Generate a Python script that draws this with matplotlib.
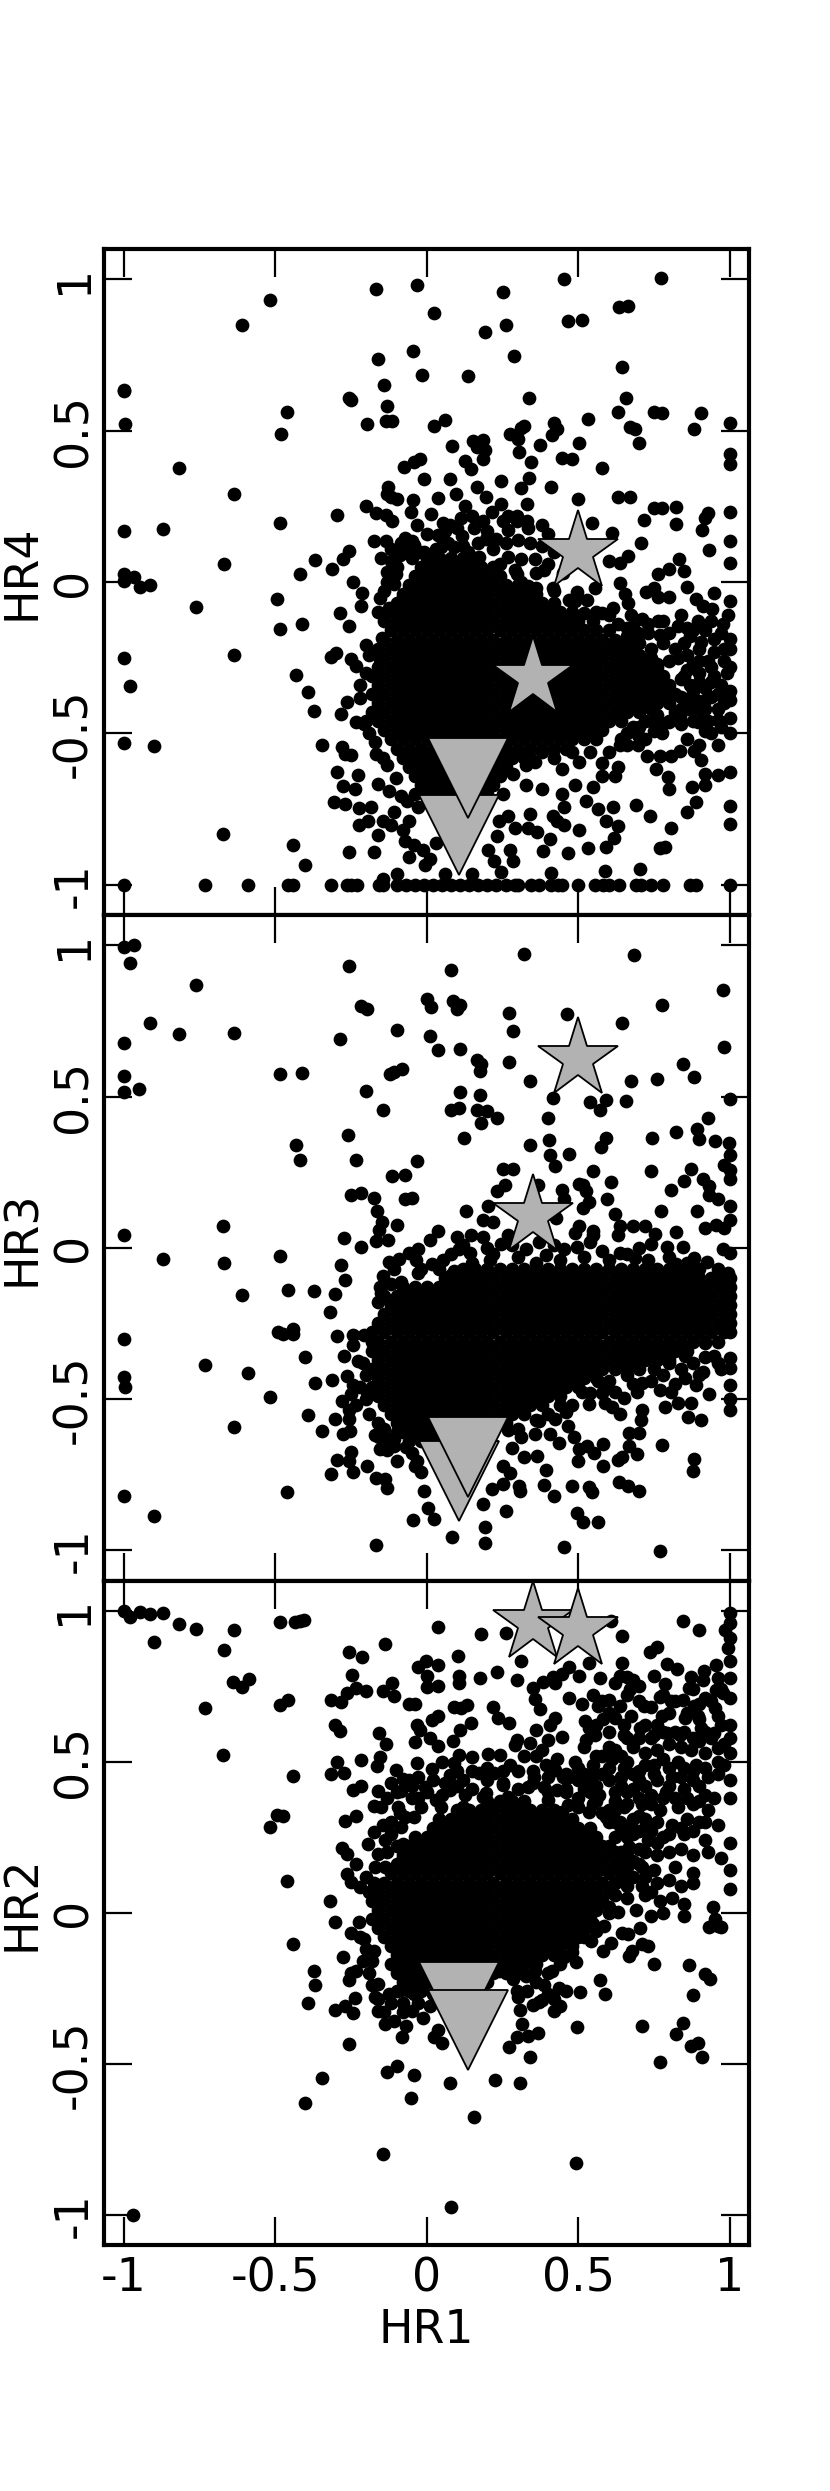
import matplotlib
matplotlib.use('Agg')
import matplotlib.pyplot as plt
import numpy as np

# Colour-colour diagrams: HR1 against HR4, HR3, HR2

tick_vals = [-1, -0.5, 0, 0.5, 1]
tick_text = ['-1', '-0.5', '0', '0.5', '1']
y_names = ['HR4', 'HR3', 'HR2']

# special sources, same in every panel for HR1
star_hr1 = [0.352, 0.5]
tri_hr1 = [0.105, 0.135]
star_hr4 = [-0.318, 0.10]
tri_hr4 = [-0.836, -0.648]
star_hr3 = [0.105, 0.623]
tri_hr3 = [-0.77, -0.692]
star_hr2 = [0.96, 0.935]
tri_hr2 = [-0.295, -0.387]

# ---- HR4 panel ----
hr4_bottom_x = [-1, -0.733, -0.59, -0.457, -0.442, -0.318, -0.265, -0.25, -0.232, -0.158, -0.144, -0.1, -0.07,
                -0.04, -0.01, 0.02, 0.05, 0.08, 0.11, 0.14, 0.17, 0.2, 0.23, 0.26, 0.29, 0.3, 0.345, 0.372, 0.41,
                0.433, 0.447, 0.5, 0.556, 0.581, 0.6, 0.635, 0.69, 0.708, 0.74, 0.781, 0.87, 0.888, 1]
hr4_pts = [(-0.167, 0.969), (-0.033, 0.982), (0.25, 0.957), (0.454, 1.0), (0.772, 1.003), (-0.518, 0.93), (0.024, 0.89),
           (-0.611, 0.848), (0.191, 0.827), (0.26, 0.849), (0.466, 0.861), (0.513, 0.867), (0.635, 0.91), (0.664, 0.913),
           (-0.047, 0.763), (-0.163, 0.737), (0.288, 0.746), (0.643, 0.71), (-0.015, 0.685), (0.136, 0.68), (-0.141, 0.652),
           (-1, 0.632), (-1, 0.635), (-0.256, 0.608), (-0.251, 0.602), (0.339, 0.608), (0.658, 0.608), (-0.13, 0.583),
           (-0.462, 0.562), (0.63, 0.562), (0.75, 0.561), (0.777, 0.559), (0.907, 0.558), (0.533, 0.54), (-0.135, 0.533),
           (-0.114, 0.533), (0.059, 0.534), (0.022, 0.516), (-0.197, 0.522), (-0.996, 0.521), (1, 0.525), (0.882, 0.506),
           (0.67, 0.512), (0.688, 0.506), (-0.481, 0.49), (0.312, 0.51), (0.322, 0.516), (0.419, 0.524), (0.43, 0.506),
           (0.413, 0.487), (0.275, 0.488), (0.3, 0.472), (0.501, 0.459), (0.701, 0.46), (0.374, 0.453), (0.083, 0.448),
           (0.152, 0.466), (0.185, 0.469), (0.164, 0.447), (0.191, 0.436), (0.185, 0.407), (0.303, 0.429), (0.343, 0.398),
           (0.448, 0.41), (0.479, 0.407), (1, 0.423), (1, 0.389), (0.127, 0.399), (0.146, 0.374), (-0.021, 0.407),
           (-0.043, 0.395), (-0.075, 0.379), (0.58, 0.377), (-0.817, 0.377), (-0.009, 0.34), (0.078, 0.339), (0.246, 0.334),
           (0.337, 0.342), (0.312, 0.311), (0.41, 0.314), (-0.638, 0.291), (-0.129, 0.314), (-0.132, 0.291), (-0.117, 0.281),
           (-0.099, 0.274), (0.037, 0.277), (0.095, 0.291), (0.164, 0.315), (0.194, 0.28), (-0.046, 0.272), (-0.053, 0.232),
           (0.499, 0.275), (0.63, 0.28), (0.67, 0.281), (0.331, 0.257), (0.246, 0.259), (0.127, 0.25), (0.112, 0.21),
           (-0.201, 0.251), (-0.169, 0.229), (-0.135, 0.222), (-0.114, 0.2), (-0.297, 0.22), (0.216, 0.232), (0.751, 0.243),
           (0.778, 0.244), (0.822, 0.247), (1, 0.232), (0.93, 0.229), (0.919, 0.21), (0.716, 0.206), (0.544, 0.195),
           (0.013, 0.223), (0.053, 0.195), (-0.031, 0.188), (-0.485, 0.194), (0.822, 0.191), (-1, 0.17), (-0.873, 0.175),
           (0.908, 0.173), (0.612, 0.161), (1, 0.136), (0.708, 0.129), (0.932, 0.105), (0.664, 0.087), (0.638, 0.062),
           (1, 0.062), (0.833, 0.077), (0.849, 0.036), (-0.67, 0.059), (-0.371, 0.072), (-0.312, 0.044), (-0.257, 0.104),
           (-0.277, 0.077), (-0.42, 0.028), (-1, 0.025), (-1, 0.003), (-0.967, 0.018), (-0.948, -0.015), (-0.913, -0.009),
           (-0.244, -0.001), (-0.494, -0.056), (-0.763, -0.083), (-0.286, -0.104), (-0.257, -0.145), (-0.485, -0.155),
           (-0.411, -0.139), (-0.638, -0.24), (-1, -0.251), (-0.981, -0.342), (-0.433, -0.308), (-0.392, -0.364),
           (-0.374, -0.426), (-1, -0.533), (-0.902, -0.543), (-0.346, -0.537), (-0.297, -0.629), (-0.226, -0.638),
           (-0.673, -0.834), (-0.442, -0.87), (-0.402, -0.936), (-0.257, -0.892), (-0.176, -0.892),
           # fringe above the core
           (-0.176, 0.134), (-0.135, 0.136), (-0.073, 0.144), (-0.05, 0.136), (-0.021, 0.1), (-0.117, 0.07), (-0.132, 0.033),
           (-0.11, -0.005), (-0.154, -0.052), (-0.161, -0.1), (-0.124, -0.086), (-0.087, -0.064), (-0.213, -0.037),
           (-0.216, -0.078), (-0.25, -0.256), (-0.317, -0.249), (-0.299, -0.234), (-0.235, -0.278), (-0.201, -0.207),
           (-0.149, -0.186), (-0.154, -0.256), (-0.265, -0.396), (-0.22, -0.382), (-0.283, -0.436), (-0.235, -0.463),
           (-0.206, -0.47), (0, 0.158), (0.038, 0.155), (0.075, 0.188), (0.117, 0.151), (0.157, 0.18), (0.194, 0.143),
           (0.23, 0.143), (0.268, 0.173), (0.297, 0.203), (0.334, 0.18), (0.379, 0.188), (0.4, 0.158), (0.046, 0.114),
           (0.09, 0.114), (0.135, 0.099), (0.172, 0.084), (-0.087, 0.129), (-0.043, 0.121), (0, 0.084), (0.061, 0.07),
           (0.105, 0.047), (0.268, 0.084), (0.312, 0.077), (0.357, 0.077), (0.297, 0.025), (0.334, -0.012), (0.386, 0.04),
           (0.416, -0.019), (0.497, -0.034), (0.49, -0.064), (-0.102, 0.025), (0.268, 0.217),
           (0.297, 0.217), (0.186, 0.203), (0.149, 0.217), (-0.058, 0.099), (0.556, -0.019), (0.601, 0.07), (0.638, -0.004),
           (0.655, -0.041), (0.664, -0.071), (0.519, -0.101), (0.578, -0.101), (0.615, -0.086),
           (-.09, .09), (-.05, .08), (-.01, .1), (.03, .11), (.07, .13), (.12, .12), (.17, .13), (.22, .11), (.26, .13), (.3, .14),
           (.34, .13), (.38, .12), (.42, .1), (.46, .11), (-.12, .11), (-.15, .08), (-.13, 0), (-.1, .05), (-.14, -.03), (-.12, -.1),
           (.24, .06), (.29, .04), (.36, .03), (.4, .06), (.45, .03), (.42, -.03), (.36, -.02), (.31, 0), (.47, -.06), (.53, -.06),
           (.56, -.1), (.6, -.11), (.63, -.14), (.55, -.13), (.68, -.19), (.73, -.17), (.8, -.17), (.87, -.18), (.92, -.16), (.97, -.17),
           (.06, .17), (.1, .18), (.2, .17), (.25, .2), (.33, .2),
           # right wing
           (0.763, 0.025), (0.8, 0.043), (0.749, -0.019), (0.723, -0.034), (0.763, -0.049), (0.8, -0.049), (0.859, -0.015),
           (0.948, -0.037), (0.889, -0.056), (0.911, -0.078), (0.941, -0.09), (1, -0.064), (0.993, -0.108), (0.978, -0.138),
           (0.675, -0.108), (0.712, -0.123), (0.763, -0.13), (0.83, -0.145), (0.896, -0.13), (0.66, -0.152), (0.697, -0.167),
           (0.771, -0.175), (0.859, -0.152), (1, -0.189), (0.948, -0.189), (0.904, -0.197),
           (0.85, -0.2), (0.9, -0.22), (0.95, -0.23), (1, -0.22), (0.83, -0.25), (0.88, -0.27), (0.93, -0.26), (0.98, -0.26), (1, -0.28),
           (0.85, -0.31), (0.9, -0.3), (0.95, -0.31), (0.99, -0.3), (0.87, -0.34), (0.92, -0.35), (0.97, -0.34), (1, -0.36),
           (0.84, -0.38), (0.89, -0.39), (0.94, -0.38), (0.98, -0.4), (0.82, -0.43), (0.86, -0.42), (0.91, -0.43), (0.96, -0.42),
           (.66, -.18), (.7, -.2), (.74, -.22), (.78, -.2), (.82, -.22), (.86, -.24), (.9, -.26), (.94, -.28), (.7, -.24), (.76, -.27),
           (.8, -.26), (.86, -.29), (.9, -.33), (.94, -.33), (.98, -.22), (.84, -.32), (.88, -.36), (.92, -.39), (.96, -.37), (.86, -.39),
           (.72, -.46), (.76, -.44), (.8, -.46), (.68, -.48), (.64, -.52), (.84, -.42), (.88, -.42), (.93, -.46), (.97, -.48), (.72, -.26),
           (.66, -.22), (.64, -.2), (.68, -.15), (.73, -.14), (.78, -.13), (.84, -.11), (.88, -.16), (.94, -.13),
           (0.741, -0.419), (0.778, -0.47), (0.8, -0.463), (0.837, -0.448), (0.874, -0.419), (0.896, -0.463), (0.919, -0.493),
           (0.963, -0.456), (1, -0.389), (1, -0.448), (1, -0.5), (0.963, -0.537), (0.882, -0.559), (0.904, -0.589),
           (0.837, -0.559), (0.808, -0.574), (0.771, -0.574), (0.726, -0.574), (0.749, -0.493), (0.778, -0.5), (0.697, -0.507),
           (0.697, -0.537), (0.638, -0.537),
           (.34, -.58), (.38, -.56), (.42, -.58), (.48, -.56), (.54, -.56), (.6, -.56), (.66, -.5), (.66, -.54), (.7, -.48), (.74, -.46),
           (.84, -.47), (.88, -.46), (.92, -.42), (.94, -.5), (.86, -.52), (.9, -.54), (.72, -.52), (-.19, -.5), (-.17, -.53), (-.2, -.46),
           (-.19, -.24), (-.2, -.3), (-.22, -.34),
           # lower right and lower middle
           (1, -0.626), (0.963, -0.638), (0.919, -0.633), (0.919, -0.67), (0.877, -0.678), (0.889, -0.726), (0.859, -0.759),
           (0.797, -0.643), (0.756, -0.618), (0.8, -0.685), (0.692, -0.737), (0.738, -0.774), (1, -0.74), (1, -0.8),
           (0.808, -0.811), (0.771, -0.88), (0.788, -0.874), (0.704, -0.948), (0.327, -0.604), (0.357, -0.596), (0.445, -0.618),
           (0.504, -0.596), (0.578, -0.599), (0.63, -0.611), (0.623, -0.641), (0.49, -0.67), (0.578, -0.641), (0.549, -0.678),
           (0.527, -0.722), (0.445, -0.7), (0.453, -0.744), (0.379, -0.685), (0.327, -0.67), (0.283, -0.633), (0.253, -0.7),
           (0.564, -0.751), (0.615, -0.744), (0.342, -0.766), (0.416, -0.774), (0.268, -0.774), (0.238, -0.788), (0.29, -0.811),
           (0.334, -0.811), (0.364, -0.825), (0.408, -0.848), (0.453, -0.803), (0.43, -0.788), (0.504, -0.818), (0.593, -0.788),
           (0.63, -0.806), (0.618, -0.845), (0.593, -0.877), (0.531, -0.88), (0.467, -0.895), (0.382, -0.888), (0.231, -0.84),
           (0.275, -0.885), (0.283, -0.922), (0.201, -0.885), (0.223, -0.922), (0.246, -0.959), (0.149, -0.966), (0.411, -0.962),
           (0.59, -0.954), (0.061, -0.966), (-0.099, -0.963), (-0.146, -0.981),
           # lower left
           (-0.28, -0.544), (-0.272, -0.567), (-0.25, -0.57), (-0.169, -0.567), (-0.146, -0.581), (-0.132, -0.604),
           (-0.102, -0.648), (-0.161, -0.666), (-0.124, -0.692), (-0.087, -0.707), (-0.065, -0.722), (-0.277, -0.673),
           (-0.238, -0.685), (-0.306, -0.726), (-0.272, -0.732), (-0.225, -0.746), (-0.183, -0.744), (-0.223, -0.803),
           (-0.194, -0.791), (-0.146, -0.788), (-0.109, -0.759), (-0.117, -0.803), (-0.16, -0.836), (-0.08, -0.818),
           (-0.058, -0.788), (-0.072, -0.855), (-0.043, -0.87), (-0.058, -0.91), (-0.013, -0.885), (0.009, -0.914),
           (-0.006, -0.936), (0.031, -0.862), (-0.028, -0.744)]
# solid core, one row of x values per y value
hr4_core_y = [.08, .05, .02, -.01, -.04, -.07, -.10, -.13, -.16, -.19, -.22, -.25, -.28, -.31, -.34, -.37, -.40, -.43, -.46,
              -.49, -.52, -.55, -.58, -.61, -.64, -.67, -.70]
hr4_core_x = [[0, .04, .08, .12, .16],
              [-.02, .02, .06, .1, .14, .18, .22],
              [-.04, 0, .04, .08, .12, .16, .2, .24],
              [-.06, -.02, .02, .06, .1, .14, .18, .22, .26, .3],
              [-.08, -.04, 0, .04, .08, .12, .16, .2, .24, .28, .32, .36],
              [-.1, -.06, -.02, .02, .06, .1, .14, .18, .22, .26, .3, .34, .38, .42],
              [-.12, -.08, -.04, 0, .04, .08, .12, .16, .2, .24, .28, .32, .36, .4, .44, .48],
              [-.14, -.1, -.06, -.02, .02, .06, .1, .14, .18, .22, .26, .3, .34, .38, .42, .46, .5],
              [-.12, -.08, -.04, 0, .04, .08, .12, .16, .2, .24, .28, .32, .36, .4, .44, .48, .52, .56, .6],
              [-.14, -.1, -.06, -.02, .02, .06, .1, .14, .18, .22, .26, .3, .34, .38, .42, .46, .5, .54, .58, .62],
              [-.16, -.12, -.08, -.04, 0, .04, .08, .12, .16, .2, .24, .28, .32, .36, .4, .44, .48, .52, .56, .6, .64, .68],
              [-.14, -.1, -.06, -.02, .02, .06, .1, .14, .18, .22, .26, .3, .34, .38, .42, .46, .5, .54, .58, .62, .66, .7, .74],
              [-.16, -.12, -.08, -.04, 0, .04, .08, .12, .16, .2, .24, .28, .32, .36, .4, .44, .48, .52, .56, .6, .64, .68, .72, .76],
              [-.18, -.14, -.1, -.06, -.02, .02, .06, .1, .14, .18, .22, .26, .3, .34, .38, .42, .46, .5, .54, .58, .62, .66, .7, .74, .78],
              [-.16, -.12, -.08, -.04, 0, .04, .08, .12, .16, .2, .24, .28, .32, .36, .4, .44, .48, .52, .56, .6, .64, .68, .72, .76, .8],
              [-.18, -.14, -.1, -.06, -.02, .02, .06, .1, .14, .18, .22, .26, .3, .34, .38, .42, .46, .5, .54, .58, .62, .66, .7, .74, .78, .82],
              [-.16, -.12, -.08, -.04, 0, .04, .08, .12, .16, .2, .24, .28, .32, .36, .4, .44, .48, .52, .56, .6, .64, .68, .72, .76, .8],
              [-.18, -.14, -.1, -.06, -.02, .02, .06, .1, .14, .18, .22, .26, .3, .34, .38, .42, .46, .5, .54, .58, .62, .66, .7],
              [-.16, -.12, -.08, -.04, 0, .04, .08, .12, .16, .2, .24, .28, .32, .36, .4, .44, .48, .52, .56, .6, .64],
              [-.14, -.1, -.06, -.02, .02, .06, .1, .14, .18, .22, .26, .3, .34, .38, .42, .46, .5, .54, .58],
              [-.12, -.08, -.04, 0, .04, .08, .12, .16, .2, .24, .28, .32, .36, .4, .44, .48, .52, .56],
              [-.1, -.06, -.02, .02, .06, .1, .14, .18, .22, .26, .3, .34, .38, .42, .46],
              [-.08, -.04, 0, .04, .08, .12, .16, .2, .24, .28, .32],
              [-.06, -.02, .02, .06, .1, .14, .18, .22, .26],
              [-.04, 0, .04, .08, .12, .16, .2, .24],
              [-.02, .02, .06, .1, .14, .18, .22],
              [-.04, 0, .04, .08, .12, .16, .2]]

# ---- HR3 panel ----
hr3_pts = [(-1, 0.993), (-0.967, 1.0), (-0.981, 0.942), (-0.257, 0.932), (0.081, 0.917), (0.321, 0.97), (0.685, 0.969),
           (-0.763, 0.87), (0.979, 0.852), (-0.001, 0.822), (0.013, 0.796), (0.087, 0.815), (0.108, 0.803), (0.098, 0.788),
           (-0.217, 0.799), (-0.198, 0.788), (0.777, 0.802), (0.271, 0.777), (0.462, 0.772), (0.643, 0.744), (-0.914, 0.744),
           (-0.817, 0.706), (-0.638, 0.71), (-0.098, 0.719), (0.283, 0.717), (0.009, 0.7), (-0.286, 0.691), (-1, 0.676),
           (0.037, 0.654), (0.108, 0.657), (0.981, 0.663), (0.164, 0.621), (0.179, 0.608), (0.176, 0.584), (0.271, 0.614),
           (0.845, 0.607), (-0.083, 0.592), (-0.109, 0.581), (-0.123, 0.574), (-0.485, 0.574), (-0.411, 0.578), (-1, 0.567),
           (0.882, 0.565), (0.76, 0.559), (0.675, 0.55), (0.342, 0.55), (-1, 0.515), (-0.95, 0.524), (-0.201, 0.519),
           (0.109, 0.515), (0.176, 0.506), (0.416, 0.496), (0.54, 0.482), (0.593, 0.488), (0.571, 0.457), (0.657, 0.484),
           (1, 0.491), (-0.145, 0.456), (0.08, 0.454), (0.105, 0.463), (0.167, 0.454), (0.198, 0.453), (0.231, 0.428),
           (0.179, 0.411), (0.399, 0.428), (0.93, 0.429), (-0.26, 0.374), (0.124, 0.364), (0.892, 0.392), (0.899, 0.359),
           (0.824, 0.382), (0.743, 0.364), (0.593, 0.364), (0.574, 0.333), (0.404, 0.355), (0.342, 0.339), (0.47, 0.311),
           (0.408, 0.306), (0.423, 0.271), (-0.433, 0.34), (-0.419, 0.291), (-0.234, 0.291), (-0.033, 0.286), (0.953, 0.352),
           (0.997, 0.345), (1, 0.308), (0.982, 0.274), (1, 0.256), (1, 0.226), (0.55, 0.254), (0.74, 0.254), (0.874, 0.259),
           (0.253, 0.259), (0.286, 0.26), (-0.114, 0.237), (-0.072, 0.24), (0.259, 0.209), (0.231, 0.189), (0.367, 0.209),
           (0.501, 0.212), (0.516, 0.207), (0.448, 0.192), (0.608, 0.216), (0.848, 0.22), (0.808, 0.192), (0.911, 0.226),
           (0.933, 0.204), (-0.25, 0.175), (-0.217, 0.18), (-0.176, 0.163), (-0.072, 0.16), (-0.05, 0.166), (0.453, 0.16),
           (0.527, 0.189), (0.534, 0.152), (0.516, 0.13), (0.596, 0.161), (0.933, 0.175), (0.963, 0.16), (1, 0.138),
           (0.774, 0.121), (0.891, 0.121), (-0.164, 0.12), (0.13, 0.12), (0.201, 0.138), (0.186, 0.093), (0.22, 0.084),
           (0.623, 0.111), (1, 0.093), (-0.147, 0.086), (-0.098, 0.075), (0.036, 0.056), (-0.158, 0.059), (0.428, 0.1),
           (0.638, 0.071), (0.682, 0.071), (0.719, 0.071), (0.919, 0.064), (0.956, 0.075), (0.982, 0.064), (0.822, 0.052),
           (0.501, 0.071), (0.549, 0.056), (0.549, 0.041), (0.49, 0.049), (0.63, 0.041), (0.754, 0.046), (-1, 0.043),
           (-0.673, 0.071), (-0.275, 0.033), (-0.127, 0.024), (-0.169, 0.022), (0.01, 0.027), (0.101, 0.034), (0.145, 0.041),
           (0.186, 0.034), (-0.219, 0.003), (0.268, 0.041),
           # left of the core
           (-0.485, -0.028), (-0.873, -0.036), (-0.67, -0.052), (-0.283, -0.056), (-0.269, -0.108), (-0.611, -0.157),
           (-0.457, -0.141), (-0.374, -0.143), (-0.302, -0.154), (-0.32, -0.214), (-1, -0.3), (-0.493, -0.28), (-0.476, -0.284),
           (-0.441, -0.269), (-0.441, -0.284), (-0.297, -0.291), (-0.243, -0.288), (-0.206, -0.287), (-0.243, -0.321),
           (-0.734, -0.388), (-0.59, -0.413), (-0.402, -0.362), (-0.275, -0.358), (-0.228, -0.373), (-1, -0.428), (-0.996, -0.459),
           (-0.371, -0.447), (-0.312, -0.436), (-0.265, -0.425), (-0.243, -0.454), (-0.518, -0.494), (-0.198, -0.476),
           (-0.28, -0.506), (-0.25, -0.484), (-0.235, -0.521), (-0.391, -0.552), (-0.302, -0.565), (-0.257, -0.536),
           (-0.638, -0.592), (-0.346, -0.606), (-0.277, -0.617), (-0.253, -0.606), (-0.257, -0.565), (-0.158, -0.624),
           (-0.109, -0.632), (-0.154, -0.664), (-0.109, -0.654), (-0.132, -0.669), (-0.25, -0.676), (-0.297, -0.703),
           (-0.257, -0.706), (-0.098, -0.706), (-0.318, -0.747), (-0.245, -0.74), (-0.197, -0.723), (-0.033, -0.706),
           (-0.169, -0.762), (-0.139, -0.765), (-0.132, -0.794), (-1, -0.82), (-0.462, -0.809), (-0.009, -0.805), (-0.902, -0.886),
           (0.004, -0.861), (-0.047, -0.899), (0.024, -0.898), (0.084, -0.957), (-0.167, -0.984), (0.191, -0.923), (0.191, -0.975),
           (0.185, -0.846), (0.26, -0.87), (0.454, -0.99), (0.771, -1.001),
           (-.2, -.42), (-.21, -.38), (-.22, -.46), (-.2, -.5), (-.19, -.55), (-.16, -.58), (-.14, -.6), (-.17, -.62), (-.13, -.63),
           (-.1, -.61), (-.07, -.66), (-.05, -.68), (-.04, -.72), (-.02, -.74),
           # below the core on the right
           (0.268, -0.602), (0.312, -0.624), (0.357, -0.617), (0.371, -0.572), (0.423, -0.565), (0.46, -0.543), (0.467, -0.59),
           (0.408, -0.617), (0.438, -0.646), (0.487, -0.627), (0.28, -0.661), (0.32, -0.691), (0.364, -0.688), (0.393, -0.735),
           (0.251, -0.723), (0.275, -0.746), (0.253, -0.78), (0.216, -0.797), (0.305, -0.787), (0.309, -0.805), (0.386, -0.783),
           (0.42, -0.82), (0.478, -0.788), (0.534, -0.791), (0.546, -0.809), (0.504, -0.664), (0.53, -0.654), (0.552, -0.679),
           (0.581, -0.649), (0.5, -0.706), (0.581, -0.72), (0.63, -0.703), (0.645, -0.691), (0.667, -0.614), (0.701, -0.611),
           (0.667, -0.654), (0.694, -0.683), (0.778, -0.651), (0.712, -0.536), (0.708, -0.568), (0.512, -0.476), (0.537, -0.516),
           (0.59, -0.513), (0.612, -0.528), (0.638, -0.55), (0.862, -0.561), (0.906, -0.57), (0.874, -0.513), (1, -0.535),
           (1, -0.499), (1, -0.454), (0.786, -0.528), (0.831, -0.513), (0.882, -0.698), (0.879, -0.738), (0.635, -0.775),
           (0.664, -0.787), (0.701, -0.805), (0.497, -0.876), (0.515, -0.905), (0.564, -0.905), (0.771, -0.469), (0.808, -0.476),
           (0.852, -0.432), (0.852, -0.358), (0.889, -0.454), (0.933, -0.484), (0.911, -0.41), (0.948, -0.358), (0.97, -0.402),
           (1, -0.365), (1, -0.398), (0.919, -0.314), (0.749, -0.402), (0.8, -0.38), (0.712, -0.447), (0.623, -0.476),
           (0.695, -0.476), (0.652, -0.498), (0.564, -0.439), (0.593, -0.462),
           (.6, -.44), (.66, -.42), (.7, -.4), (.74, -.44), (.68, -.45), (.78, -.42), (.84, -.4), (.88, -.38), (.92, -.36), (.96, -.38),
           (.9, -.42), (.82, -.45), (.54, -.48), (.58, -.48), (.48, -.52), (.44, -.52), (.4, -.55), (.36, -.57), (.3, -.6),
           # ragged upper edge
           (-0.124, -0.047), (-0.092, -0.036), (-0.058, -0.018), (-0.028, -0.003), (-0.036, -0.04), (0.053, -0.04), (0.016, -0.055),
           (-0.146, -0.092), (-0.154, -0.129), (-0.087, -0.114), (-0.028, -0.084), (0.09, -0.077), (0.105, -0.003), (0.142, -0.018),
           (0.209, -0.04), (0.246, 0.012), (0.327, -0.003), (0.393, -0.025), (0.453, -0.003), (0.497, 0.004), (0.578, -0.01),
           (0.638, -0.018), (0.689, -0.033), (0.741, 0.012), (0.793, 0.001), (0.845, 0.004), (0.882, -0.033), (0.926, -0.047),
           (0.822, -0.055), (0.763, -0.077), (0.978, -0.003), (1, -0.018), (0.993, -0.084), (0.941, -0.114),
           (-.02, -.07), (.04, -.07), (.08, -.09), (.15, -.05), (.22, -.02), (.3, -.03), (.36, -.05), (.44, -.04), (.52, -.03), (.6, -.04),
           (.66, -.02), (.73, -.04), (.8, -.03), (.86, -.05), (.9, -.07), (.96, -.07), (1, -.1), (.2, 0), (.37, .02), (.54, .02), (.7, 0),
           (.08, -.02), (.12, .01), (.28, .01), (.42, .01), (-.11, -.07), (-.15, -.15), (-.12, -.12), (-.16, -.18)]
hr3_core_y = [-.07, -.10, -.13, -.16, -.19, -.22, -.25, -.28, -.31, -.34, -.37, -.40, -.43, -.46, -.49, -.52, -.55, -.58, -.61, -.64]
hr3_core_x = [[.12, .16, .2, .24, .28, .32, .36, .4, .44, .48, .52, .56, .6, .64, .68, .72, .76, .8, .84, .88],
              [.06, .1, .14, .18, .22, .26, .3, .34, .38, .42, .46, .5, .54, .58, .62, .66, .7, .74, .78, .82, .86, .9, .94, .98],
              [-.08, -.04, 0, .04, .08, .12, .16, .2, .24, .28, .32, .36, .4, .44, .48, .52, .56, .6, .64, .68, .72, .76, .8, .84, .88, .92, .96, 1],
              [-.14, -.1, -.06, -.02, .02, .06, .1, .14, .18, .22, .26, .3, .34, .38, .42, .46, .5, .54, .58, .62, .66, .7, .74, .78, .82, .86, .9, .94, .98, 1],
              [-.12, -.08, -.04, 0, .04, .08, .12, .16, .2, .24, .28, .32, .36, .4, .44, .48, .52, .56, .6, .64, .68, .72, .76, .8, .84, .88, .92, .96, 1],
              [-.14, -.1, -.06, -.02, .02, .06, .1, .14, .18, .22, .26, .3, .34, .38, .42, .46, .5, .54, .58, .62, .66, .7, .74, .78, .82, .86, .9, .94, .98, 1],
              [-.16, -.12, -.08, -.04, 0, .04, .08, .12, .16, .2, .24, .28, .32, .36, .4, .44, .48, .52, .56, .6, .64, .68, .72, .76, .8, .84, .88, .92, .96, 1],
              [-.18, -.14, -.1, -.06, -.02, .02, .06, .1, .14, .18, .22, .26, .3, .34, .38, .42, .46, .5, .54, .58, .62, .66, .7, .74, .78, .82, .86, .9, .94, .98, 1],
              [-.18, -.16, -.12, -.08, -.04, 0, .04, .08, .12, .16, .2, .24, .28, .32, .36, .4, .44, .48, .52, .56, .6, .64, .68, .72, .76, .8, .84, .88, .92, .96],
              [-.18, -.14, -.1, -.06, -.02, .02, .06, .1, .14, .18, .22, .26, .3, .34, .38, .42, .46, .5, .54, .58, .62, .66, .7, .74, .78, .82, .86],
              [-.16, -.12, -.08, -.04, 0, .04, .08, .12, .16, .2, .24, .28, .32, .36, .4, .44, .48, .52, .56, .6, .64, .68, .72, .76, .8],
              [-.18, -.14, -.1, -.06, -.02, .02, .06, .1, .14, .18, .22, .26, .3, .34, .38, .42, .46, .5, .54, .58, .62, .66],
              [-.16, -.12, -.08, -.04, 0, .04, .08, .12, .16, .2, .24, .28, .32, .36, .4, .44, .48, .52, .56],
              [-.18, -.14, -.1, -.06, -.02, .02, .06, .1, .14, .18, .22, .26, .3, .34, .38, .42, .46, .5],
              [-.16, -.12, -.08, -.04, 0, .04, .08, .12, .16, .2, .24, .28, .32, .36, .4, .44],
              [-.14, -.1, -.06, -.02, .02, .06, .1, .14, .18, .22, .26, .3, .34, .38],
              [-.12, -.08, -.04, 0, .04, .08, .12, .16, .2, .24, .28, .32],
              [-.1, -.06, -.02, .02, .06, .1, .14, .18, .22, .26],
              [-.08, -.04, 0, .04, .08, .12, .16, .2],
              [-.06, -.02, .02, .06, .1]]

# ---- HR2 panel ----
hr2_pts = [(-1, 0.999), (-0.981, 0.978), (-0.948, 0.996), (-0.913, 0.988), (-0.873, 0.991), (-0.817, 0.955), (-0.763, 0.938),
           (-0.638, 0.935), (-0.902, 0.897), (-0.67, 0.871), (-0.485, 0.963), (-0.435, 0.963), (-0.42, 0.966), (-0.405, 0.97),
           (-0.639, 0.764), (-0.612, 0.747), (-0.589, 0.774), (-0.734, 0.677), (-0.485, 0.688), (-0.457, 0.706), (-0.673, 0.523),
           (-0.441, 0.453), (-0.519, 0.285), (-0.494, 0.324), (-0.476, 0.319), (-0.462, 0.104), (-0.32, 0.038), (-0.302, -0.03),
           (-0.441, -0.104), (-0.374, -0.194), (-0.371, -0.239), (-0.392, -0.298), (-0.257, -0.433), (-0.346, -0.546),
           (-0.402, -0.63), (-0.132, -0.527), (-0.099, -0.507), (-0.043, -0.537), (-0.053, -0.614), (0.075, -0.565), (0.226, -0.553),
           (0.309, -0.563), (0.157, -0.675), (-0.145, -0.798), (0.493, -0.83), (0.081, -0.973), (-0.97, -1.001),
           # below the core
           (0.342, -0.479), (0.271, -0.444), (0.297, -0.412), (0.334, -0.408), (0.367, -0.397), (0.315, -0.367), (0.309, -0.323),
           (0.349, -0.306), (0.371, -0.296), (0.42, -0.326), (0.419, -0.285), (0.386, -0.239), (0.438, -0.249), (0.507, -0.262),
           (0.497, -0.379), (0.571, -0.224), (0.59, -0.268), (0.494, -0.163), (0.453, -0.145), (0.413, -0.194), (0.357, -0.194),
           (0.297, -0.26), (0.327, -0.211), (0.238, -0.194), (0.283, -0.219), (0.541, -0.095), (0.583, -0.128), (0.608, -0.099),
           (0.645, -0.066), (0.664, -0.071), (0.63, 0.003), (0.549, -0.038), (0.586, -0.043), (0.667, -0.142), (0.679, -0.128),
           (0.703, -0.051), (0.712, -0.104), (0.729, -0.109), (0.751, -0.171), (0.71, -0.374), (0.771, -0.495), (0.822, -0.402),
           (0.845, -0.364), (0.874, -0.441), (0.896, -0.43), (0.908, -0.479), (0.867, -0.174), (0.879, -0.273), (0.919, -0.202),
           (0.936, -0.219), (0.932, -0.046), (0.963, -0.043), (0.973, -0.046), (0.945, 0.02), (0.951, -0.021),
           (-0.277, -0.148), (-0.25, -0.199), (-0.235, -0.194), (-0.257, -0.224), (-0.18, -0.24), (-0.238, -0.283), (-0.303, -0.323),
           (-0.272, -0.309), (-0.243, -0.331), (-0.161, -0.326), (-0.139, -0.367), (-0.109, -0.359), (-0.07, -0.375), (-0.083, -0.412),
           (-0.05, -0.326), (-0.013, -0.347), (0.038, -0.388), (0.024, -0.413), (0.05, -0.43), (-0.25, -0.066), (-0.223, -0.03),
           (-0.206, -0.087), (-0.176, -0.128), (-0.161, -0.285), (-0.161, -0.235), (-0.124, -0.268), (-0.087, -0.257),
           (-0.043, -0.268), (0.009, -0.309),
           (.52, -.08), (.48, -.13), (.4, -.2), (.44, -.17), (.36, -.23), (.3, -.28), (.33, -.26), (.02, -.27), (-.03, -.3), (-.08, -.3),
           (-.12, -.3), (-.17, -.28), (-.19, -.2), (-.18, -.16), (-.2, -.12), (-.22, -.08), (-.21, -.16), (-.14, -.33), (-.08, -.33),
           (.4, -.27), (.46, -.26), (.44, -.31), (.38, -.29),
           # above the core
           (0.037, 0.947), (-0.138, 0.891), (-0.257, 0.864), (-0.214, 0.846), (0.104, 0.851), (0.179, 0.922), (0.26, 0.925),
           (0.312, 0.835), (0.297, 0.769), (0.231, 0.797), (0.176, 0.777), (-0.028, 0.813), (-0.003, 0.835), (0.038, 0.821),
           (0.001, 0.785), (0.038, 0.752), (0.001, 0.747), (0.105, 0.785), (0.105, 0.76), (-0.247, 0.788), (-0.235, 0.744),
           (-0.265, 0.728), (-0.2, 0.734), (-0.146, 0.734), (-0.114, 0.76), (-0.109, 0.719), (-0.317, 0.703), (-0.283, 0.698),
           (-0.058, 0.691), (-0.04, 0.691), (0.038, 0.653), (0.016, 0.637), (0.09, 0.681), (0.112, 0.678), (0.132, 0.688),
           (0.145, 0.629), (0.109, 0.604), (0.22, 0.681), (0.235, 0.645), (0.271, 0.629), (-0.034, 0.621), (-0.021, 0.604),
           (0.009, 0.579), (-0.04, 0.566), (0.036, 0.551), (0.086, 0.568), (-0.158, 0.596), (-0.136, 0.558), (-0.302, 0.621),
           (-0.287, 0.601), (-0.217, 0.505), (-0.297, 0.5), (-0.275, 0.464), (-0.318, 0.459), (-0.154, 0.514), (-0.164, 0.486),
           (-0.031, 0.497), (0.016, 0.476), (-0.028, 0.448), (-0.102, 0.472), (-0.08, 0.443), (-0.12, 0.428), (-0.087, 0.403),
           (-0.006, 0.415), (-0.243, 0.407), (-0.217, 0.418), (-0.161, 0.403), (-0.176, 0.354), (-0.095, 0.349), (-0.235, 0.321),
           (-0.269, 0.305), (0.105, 0.522), (0.09, 0.497), (0.149, 0.514), (0.201, 0.527), (0.241, 0.522), (0.275, 0.489),
           (0.223, 0.464), (0.172, 0.464), (0.12, 0.44), (0.078, 0.456), (0.253, 0.423), (0.186, 0.382), (0.127, 0.39),
           (0.075, 0.407), (0.031, 0.374), (0.29, 0.555), (0.297, 0.571), (0.342, 0.563), (0.359, 0.604), (0.379, 0.538),
           (0.401, 0.571), (0.423, 0.645), (0.408, 0.621), (0.445, 0.583), (0.43, 0.51), (0.393, 0.489), (0.423, 0.472),
           (0.354, 0.448), (0.334, 0.415), (0.386, 0.415), (0.43, 0.407), (0.467, 0.357), (0.352, 0.744), (0.357, 0.708),
           (0.374, 0.675), (0.383, 0.764), (0.423, 0.76), (0.416, 0.78), (0.445, 0.789), (0.47, 0.815), (0.504, 0.785),
           (0.534, 0.826), (0.571, 0.777), (0.468, 0.711), (0.512, 0.691), (0.522, 0.634), (0.581, 0.64), (0.556, 0.588),
           (0.527, 0.571), (0.643, 0.826), (0.638, 0.785), (0.682, 0.769), (0.67, 0.741), (0.643, 0.917), (0.608, 0.966),
           (0.738, 0.864), (0.759, 0.879), (0.845, 0.965), (0.899, 0.937), (0.749, 0.785), (0.793, 0.823), (0.825, 0.807),
           (0.786, 0.757), (0.716, 0.686), (0.771, 0.714), (0.778, 0.653), (0.808, 0.701),
           (-.05, .38), (0, .4), (.05, .39), (.1, .42), (.15, .41), (.2, .44), (.25, .43), (.3, .41), (.35, .43), (.4, .4), (.46, .41),
           (.5, .38), (.56, .37), (-.02, .35), (-.09, .33), (-.12, .3), (-.12, .26), (-.1, .22), (-.13, .2), (-.17, .15), (-.2, .12), (-.19, .07),
           (.02, .44), (.06, .43), (.1, .47), (.15, .47), (.2, .48), (.25, .47), (.3, .47), (.35, .47), (.32, .52), (.36, .52), (.4, .45), (.45, .45),
           (.05, .5), (-.06, .44), (-.1, .4), (-.05, .42), (-.15, .35), (-.13, .38), (-.03, .38),
           # the x = 1 column and the top right
           (1, 0.994), (1, 0.958), (0.985, 0.935), (1, 0.909), (0.993, 0.876), (1, 0.835), (0.956, 0.821), (0.916, 0.802),
           (0.874, 0.78), (0.867, 0.744), (0.911, 0.769), (0.963, 0.777), (1, 0.777), (0.978, 0.728), (1, 0.711), (0.956, 0.736),
           (0.919, 0.711), (0.882, 0.686), (0.845, 0.703), (0.852, 0.645), (0.896, 0.653), (0.951, 0.678), (1, 0.621), (1, 0.579),
           (0.948, 0.596), (0.904, 0.612), (1, 0.53), (0.963, 0.546), (0.919, 0.53), (0.874, 0.538), (0.837, 0.588), (0.793, 0.596),
           (0.749, 0.588), (0.704, 0.612), (0.652, 0.588), (0.623, 0.645), (0.601, 0.703), (0.564, 0.686), (0.638, 0.686),
           (0.675, 0.653), (0.534, 0.612),
           # web to the right of the core
           (0.49, 0.5), (0.55, 0.49), (0.61, 0.51), (0.66, 0.5), (0.72, 0.49), (0.78, 0.51), (0.83, 0.5), (0.89, 0.49), (0.98, 0.49),
           (0.47, 0.45), (0.53, 0.44), (0.58, 0.46), (0.64, 0.45), (0.7, 0.44), (0.75, 0.46), (0.81, 0.45), (0.88, 0.44), (0.93, 0.45), (1, 0.44),
           (0.46, 0.4), (0.52, 0.41), (0.57, 0.39), (0.62, 0.4), (0.68, 0.41), (0.74, 0.39), (0.79, 0.4), (0.85, 0.41), (0.92, 0.39), (1, 0.38),
           (0.5, 0.35), (0.55, 0.36), (0.6, 0.34), (0.65, 0.35), (0.71, 0.36), (0.77, 0.34), (0.83, 0.35), (0.88, 0.36), (0.93, 0.34),
           (0.62, 0.3), (0.67, 0.29), (0.72, 0.31), (0.76, 0.3), (0.81, 0.29), (0.86, 0.31), (0.9, 0.3), (0.96, 0.29),
           (0.62, 0.25), (0.68, 0.26), (0.73, 0.24), (0.78, 0.25), (0.85, 0.26), (0.92, 0.24), (1, 0.23),
           (0.64, 0.2), (0.7, 0.21), (0.76, 0.19), (0.8, 0.2), (0.84, 0.21), (0.88, 0.19), (0.93, 0.2), (0.97, 0.18),
           (0.66, 0.15), (0.7, 0.16), (0.75, 0.14), (0.82, 0.15), (0.88, 0.13), (1, 0.14),
           (0.62, 0.1), (0.66, 0.11), (0.71, 0.09), (0.76, 0.1), (0.8, 0.11), (0.84, 0.09), (0.88, 0.1), (1, 0.08),
           (0.66, 0.05), (0.72, 0.06), (0.77, 0.04), (0.81, 0.05), (0.85, 0.03), (0.6, 0), (0.69, 0.01), (0.74, -0.01), (0.78, 0), (0.85, -0.01),
           (.52, .46), (.56, .42), (.6, .44), (.64, .42), (.68, .46), (.72, .42), (.76, .44), (.8, .42), (.84, .45), (.88, .47), (.9, .42), (.96, .46),
           (.52, .55), (.56, .52), (.6, .55), (.64, .52), (.68, .55), (.72, .53), (.76, .54), (.8, .56), (.84, .55), (.9, .57), (.94, .58), (.97, .62),
           (.72, .62), (.76, .62), (.8, .66), (.85, .6), (.9, .64), (.94, .7), (.97, .74), (.88, .74), (.62, .76), (.66, .72), (.7, .7), (.74, .68),
           (.55, .72), (.6, .6), (.62, .34), (.66, .36), (.7, .32), (.74, .27), (.7, .27), (.66, .25), (.64, .14), (.68, .12), (.72, .12), (.66, .09),
           (.6, .02), (.56, -.06), (.62, .06), (.74, .07),
           (.6, .3), (.64, .28), (.68, .31), (.72, .28), (.66, .2), (.62, .2), (.64, .17), (.68, .17), (.72, .2), (.76, .23), (.8, .26), (.84, .28),
           (.88, .27), (.92, .3), (.58, .33), (.62, .37), (.66, .4), (.7, .38), (.74, .36), (.78, .38), (.82, .38), (.86, .38), (.9, .37), (.95, .38),
           (.54, .4), (.5, .44), (.55, .46), (.6, .48), (.65, .48), (.7, .47), (.75, .49), (.8, .48), (.85, .48), (.92, .48), (.96, .5), (.5, .48),
           (.46, .46), (.58, .52), (.62, .54), (.66, .58), (.7, .58), (.74, .58), (.78, .6), (.82, .6), (.88, .58), (.92, .6), (.96, .65), (.9, .69),
           (.86, .66), (.82, .7), (.98, .56), (.65, .62), (.6, .66), (.56, .62), (.58, .7), (.66, .78), (.7, .75), (.78, .72),
           # left edge of the core
           (-0.28, 0.214), (-0.265, 0.193), (-0.235, 0.16), (-0.265, 0.127), (-0.25, 0.102), (-0.22, 0.086), (-0.176, 0.099),
           (-0.195, 0.226), (-0.176, 0.267), (-0.146, 0.291), (-0.139, 0.242), (-0.161, 0.193), (-0.139, 0.151), (-0.087, 0.283),
           (-0.08, 0.226), (-0.043, 0.316), (-0.072, 0.316), (-0.087, 0.168), (0.046, 0.349), (0.12, 0.349), (0.194, 0.398),
           (0.268, 0.382), (0.4, 0.374), (0.445, 0.333), (0.534, 0.333), (0.593, 0.316), (0.534, 0.25), (0.638, 0.3),
           (0.667, 0.217), (0.712, 0.151), (0.652, 0.135), (0.608, 0.069)]
hr2_core_y = [.37, .34, .31, .28, .25, .22, .19, .16, .13, .10, .07, .04, .01, -.02, -.05, -.08, -.11, -.14, -.17, -.20, -.23, -.26]
hr2_core_x = [[.2, .24, .28, .32],
              [.1, .14, .18, .22, .26, .3, .34, .38, .42],
              [.04, .08, .12, .16, .2, .24, .28, .32, .36, .4, .44, .48],
              [.02, .06, .1, .14, .18, .22, .26, .3, .34, .38, .42, .46, .5, .54],
              [-.04, 0, .04, .08, .12, .16, .2, .24, .28, .32, .36, .4, .44, .48, .52, .56],
              [-.06, -.02, .02, .06, .1, .14, .18, .22, .26, .3, .34, .38, .42, .46, .5, .54, .58, .6],
              [-.08, -.04, 0, .04, .08, .12, .16, .2, .24, .28, .32, .36, .4, .44, .48, .52, .56, .6, .62],
              [-.1, -.06, -.02, .02, .06, .1, .14, .18, .22, .26, .3, .34, .38, .42, .46, .5, .54, .58, .62],
              [-.12, -.08, -.04, 0, .04, .08, .12, .16, .2, .24, .28, .32, .36, .4, .44, .48, .52, .56, .6, .64],
              [-.14, -.1, -.06, -.02, .02, .06, .1, .14, .18, .22, .26, .3, .34, .38, .42, .46, .5, .54, .58, .62],
              [-.16, -.12, -.08, -.04, 0, .04, .08, .12, .16, .2, .24, .28, .32, .36, .4, .44, .48, .52, .56, .6],
              [-.18, -.14, -.1, -.06, -.02, .02, .06, .1, .14, .18, .22, .26, .3, .34, .38, .42, .46, .5, .54, .58],
              [-.16, -.12, -.08, -.04, 0, .04, .08, .12, .16, .2, .24, .28, .32, .36, .4, .44, .48, .52, .56],
              [-.18, -.14, -.1, -.06, -.02, .02, .06, .1, .14, .18, .22, .26, .3, .34, .38, .42, .46, .5, .54],
              [-.16, -.12, -.08, -.04, 0, .04, .08, .12, .16, .2, .24, .28, .32, .36, .4, .44, .48, .52],
              [-.14, -.1, -.06, -.02, .02, .06, .1, .14, .18, .22, .26, .3, .34, .38, .42, .46, .5],
              [-.12, -.08, -.04, 0, .04, .08, .12, .16, .2, .24, .28, .32, .36, .4, .44, .48],
              [-.1, -.06, -.02, .02, .06, .1, .14, .18, .22, .26, .3, .34, .38, .42],
              [-.12, -.08, -.04, 0, .04, .08, .12, .16, .2, .24, .28, .32, .36],
              [-.1, -.06, -.02, .02, .06, .1, .14, .18, .22, .26, .3],
              [-.08, -.04, 0, .04, .08, .12, .16, .2],
              [-.1, -.06, -.02]]

hr4_x = [p[0] for p in hr4_pts] + hr4_bottom_x
hr4_y = [p[1] for p in hr4_pts] + [-1.0] * len(hr4_bottom_x)
hr3_x = [p[0] for p in hr3_pts]
hr3_y = [p[1] for p in hr3_pts]
hr2_x = [p[0] for p in hr2_pts]
hr2_y = [p[1] for p in hr2_pts]

for row_y, row_x in zip(hr4_core_y, hr4_core_x):
    hr4_x = hr4_x + row_x
    hr4_y = hr4_y + [row_y] * len(row_x)
for row_y, row_x in zip(hr3_core_y, hr3_core_x):
    hr3_x = hr3_x + row_x
    hr3_y = hr3_y + [row_y] * len(row_x)
for row_y, row_x in zip(hr2_core_y, hr2_core_x):
    hr2_x = hr2_x + row_x
    hr2_y = hr2_y + [row_y] * len(row_x)

panels = [(hr4_x, hr4_y, star_hr4, tri_hr4),
          (hr3_x, hr3_y, star_hr3, tri_hr3),
          (hr2_x, hr2_y, star_hr2, tri_hr2)]

W, H = 830.0, 2491.0
left = 103.5
right = 749.0
edges = [249.0, 915.0, 1580.5, 2245.0]

fig = plt.figure(figsize=(8.3, 24.91), dpi=100)

for i in range(3):
    x, y, s_y, t_y = panels[i]
    ax = fig.add_axes([left/W, 1 - edges[i+1]/H, (right-left)/W, (edges[i+1]-edges[i])/H])
    ax.plot(x, y, 'o', color='k', ms=9.9, mew=0, zorder=2)
    ax.plot(tri_hr1, t_y, ls='none', marker='v', ms=58, mfc='#b2b2b2', mec='k', mew=1.3, zorder=3)
    ax.plot(star_hr1, s_y, ls='none', marker='*', ms=60, mfc='#b2b2b2', mec='k', mew=1.3, zorder=4)

    ax.set_xlim(-1.068, 1.064)
    ax.set_ylim(-1.10, 1.10)
    ax.set_xticks(tick_vals)
    ax.set_yticks(tick_vals)
    ax.tick_params(direction='in', length=20, width=1.6, top=True, right=True, labelsize=33)
    ax.tick_params(axis='x', pad=8)
    ax.tick_params(axis='y', pad=5)
    ax.set_yticklabels(tick_text, rotation=90, va='center')
    if i == 2:
        ax.set_xticklabels(tick_text)
        ax.set_xlabel('HR1', fontsize=33, labelpad=5)
    else:
        ax.set_xticklabels([])
    ax.set_ylabel(y_names[i], fontsize=33, labelpad=5, y=0.514)
    for sp in ax.spines.values():
        sp.set_linewidth(3.0)

fig.savefig('out.png', dpi=100)
